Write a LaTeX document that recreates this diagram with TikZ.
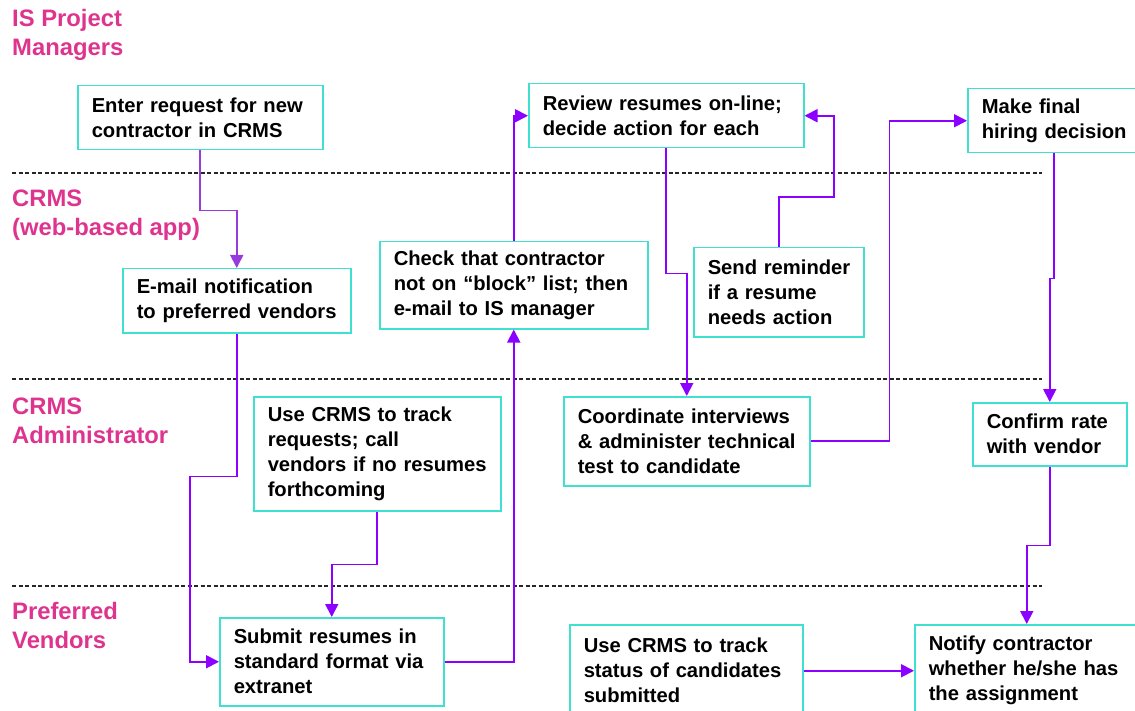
\documentclass[tikz,border=0pt]{standalone}
\usepackage{fontspec}
\setmainfont{Liberation Sans}
\usetikzlibrary{arrows.meta}
\definecolor{lanecol}{RGB}{222,52,142}
\definecolor{boxcol}{RGB}{64,224,208}
\definecolor{arrcol}{RGB}{139,0,255}
\definecolor{arrcolA}{RGB}{150,60,220}
\tikzset{
 procbox/.style={draw=boxcol, line width=1.5pt, fill=white, anchor=north west, inner xsep=14pt, inner ysep=0pt, align=left, font=\fontsize{20.2}{25}\selectfont\bfseries},
 lanelabel/.style={anchor=base west, inner sep=0pt, align=left, text=lanecol, font=\fontsize{23.8}{29}\selectfont\bfseries},
 flow/.style={draw=arrcol, line width=1.8pt, -{Triangle[length=13pt,width=13pt]}},
 lanesep/.style={draw=black!85, line width=1.1pt, dash pattern=on 4pt off 2.5pt},
}
\begin{document}
\begin{tikzpicture}[x=1pt,y=-1pt]
\useasboundingbox (0,0) rectangle (1135,711);
% lane separators
\draw[lanesep] (12,173) -- (1042,173);
\draw[lanesep] (12,379) -- (1042,379);
\draw[lanesep] (12,586) -- (1042,586);
% lane labels (anchored at the baseline of the last line)
\node[lanelabel] (lane1) at (12,56) {IS Project\\Managers};
\node[lanelabel] (lane2) at (12,236) {CRMS\\(web-based app)};
\node[lanelabel] (lane3) at (12,443) {CRMS\\Administrator};
\node[lanelabel] (lane4) at (12,648) {Preferred\\Vendors};
% boxes
\node[procbox, text width=217pt, minimum height=64pt] (enter) at (77,85) {Enter request for new\\contractor in CRMS};
\node[procbox, text width=247pt, minimum height=64pt] (review) at (528,83) {Review resumes on-line;\\decide action for each};
\node[procbox, text width=150pt, minimum height=64pt] (final) at (967,88) {Make final\\\mbox{hiring decision}};
\node[procbox, text width=200pt, minimum height=64pt] (email) at (122,268) {E-mail notification\\\mbox{to preferred vendors}};
\node[procbox, text width=240pt, minimum height=87pt] (check) at (379,241) {Check that contractor\\not on “block” list; then\\e-mail to IS manager};
\node[procbox, text width=142pt, minimum height=89pt] (remind) at (693,247) {\mbox{Send reminder}\\if a resume\\needs action};
\node[procbox, text width=219pt, minimum height=114pt] (track) at (253,396) {Use CRMS to track\\requests; call\\\mbox{vendors if no resumes}\\forthcoming};
\node[procbox, text width=218pt, minimum height=89pt] (coord) at (563,396) {Coordinate interviews\\\mbox{\& administer technical}\\test to candidate};
\node[procbox, text width=126pt, minimum height=63pt] (confirm) at (972,402) {Confirm rate\\with vendor};
\node[procbox, text width=196pt, minimum height=88pt] (submit) at (219,617) {Submit resumes in\\standard format via\\extranet};
\node[procbox, text width=205pt, minimum height=92pt] (status) at (569,624) {Use CRMS to track\\status of candidates\\submitted};
\node[procbox, text width=196pt, minimum height=92pt] (notify) at (914,624) {Notify contractor\\whether he/she has\\the assignment};
% connectors
\draw[flow, draw=arrcolA] (enter.south) -- ++(0,60) -| (email.north);
\draw[flow] (email.south) -- ++(0,143) -- ++(-47,0) |- (submit.west);
\draw[flow] (submit.east) -| (check.south);
\draw[flow] (check.north) |- (review.west);
\draw[flow] (review.south) -- ++(0,125) -| (coord.north);
\draw[flow] (remind.north) -- ++(0,-50) -- ++(55,0) |- (review.east);
\draw[flow] (coord.east) -- ++(79,0) |- (final.west);
\draw[flow] ([xshift=-3pt]final.south) -- ++(0,125) -| (confirm.north);
\draw[flow] (confirm.south) -- ++(0,79) -| (notify.north);
\draw[flow] (track.south) -- ++(0,53) -| (submit.north);
\draw[flow] (status.east) -- (notify.west);
\end{tikzpicture}
\end{document}
